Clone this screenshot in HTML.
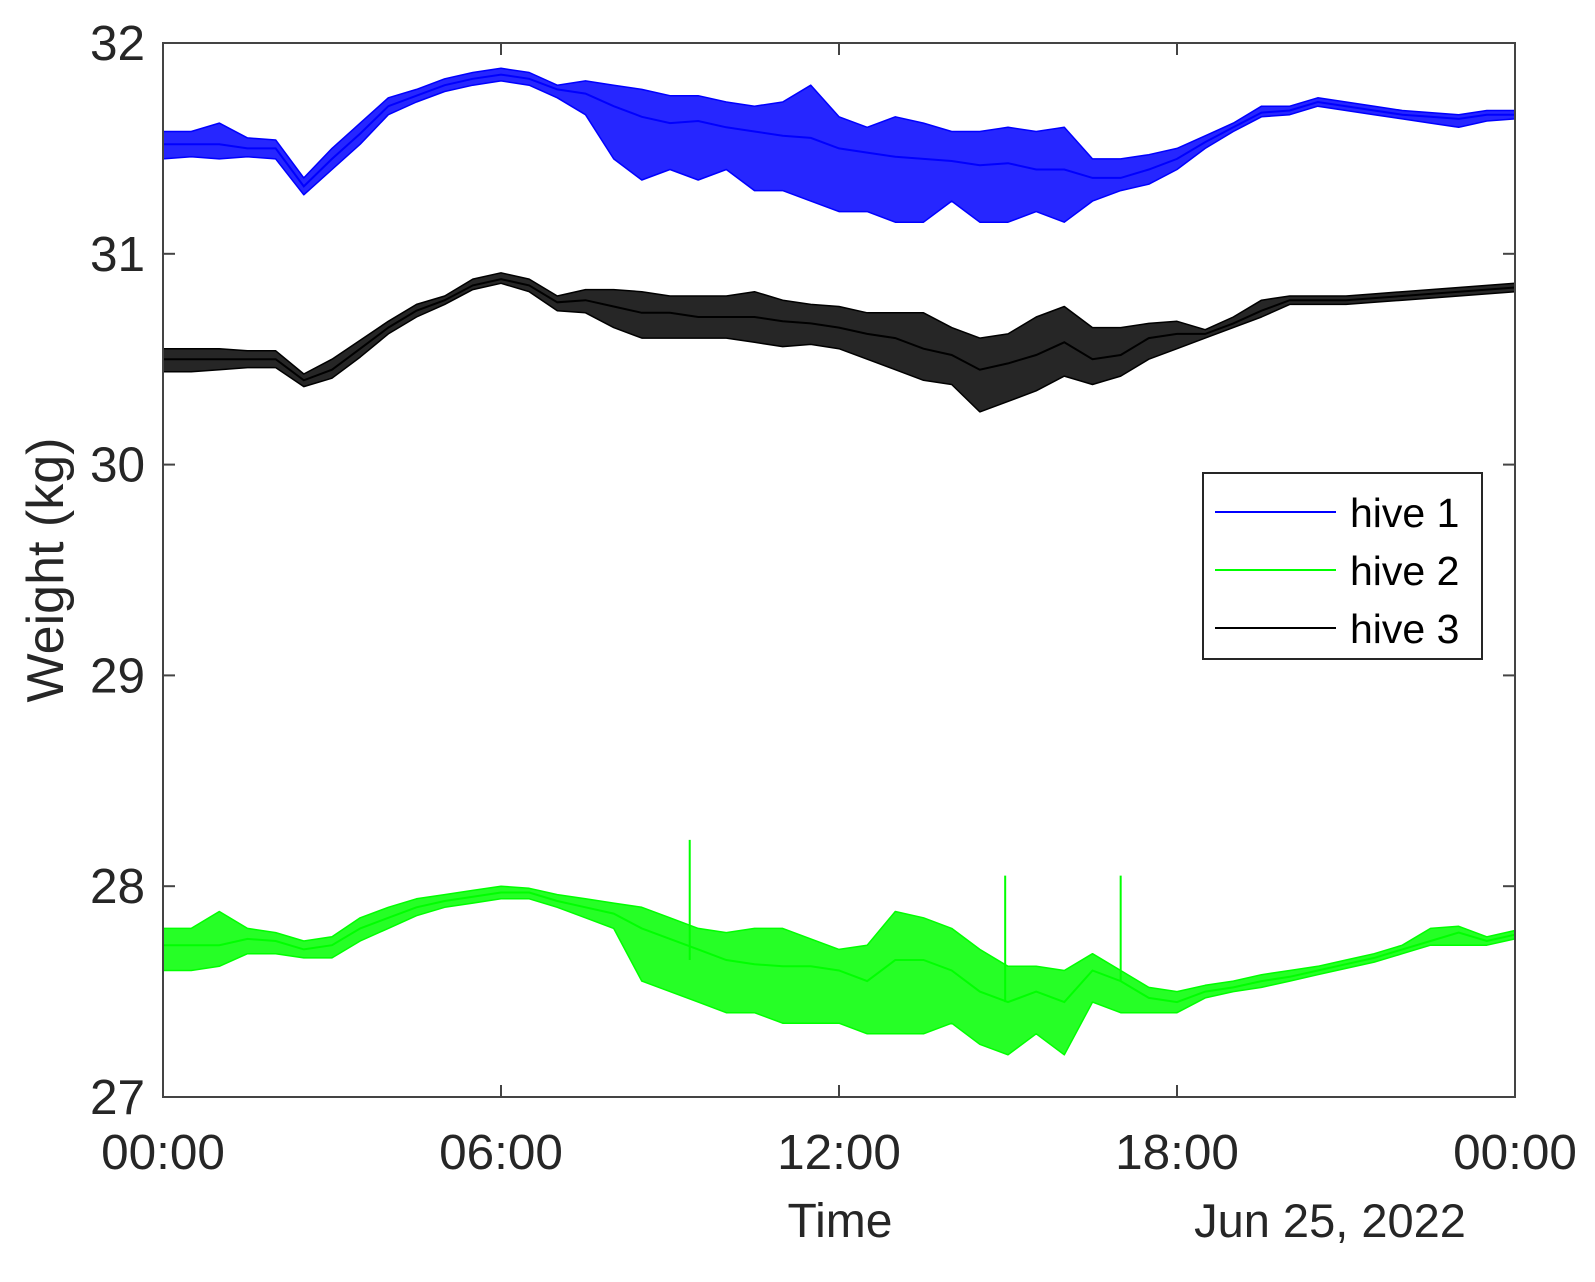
<!DOCTYPE html>
<html><head><meta charset="utf-8"><style>
html,body{margin:0;padding:0;background:#fff;}
svg{display:block;font-family:"Liberation Sans",Arial,sans-serif;}
</style></head><body>
<svg id="chart" width="1595" height="1282" viewBox="0 0 1595 1282" xmlns="http://www.w3.org/2000/svg">
<rect width="1595" height="1282" fill="#fff"/>
<g id="series"></g>
<g id="axes"></g>
<text x="840" y="1237" font-size="48" text-anchor="middle" fill="#262626">Time</text>
<text x="1330" y="1237" font-size="47" text-anchor="middle" fill="#262626">Jun 25, 2022</text>
<text transform="translate(63,570) rotate(-90)" font-size="52" text-anchor="middle" fill="#262626">Weight (kg)</text>
<g>
<rect x="1203" y="473" width="279" height="186" fill="#fff" stroke="#262626" stroke-width="2"/>
<line x1="1215" x2="1336" y1="512" y2="512" stroke="#0000ff" stroke-width="2"/>
<text x="1350" y="527" font-size="41" fill="#000">hive 1</text>
<line x1="1215" x2="1336" y1="570" y2="570" stroke="#00ff00" stroke-width="2"/>
<text x="1350" y="585" font-size="41" fill="#000">hive 2</text>
<line x1="1215" x2="1336" y1="628" y2="628" stroke="#000" stroke-width="2"/>
<text x="1350" y="643" font-size="41" fill="#000">hive 3</text>
</g>
</svg>
<script>
const hours = [0,0.5,1,1.5,2,2.5,3,3.5,4,4.5,5,5.5,6,6.5,7,7.5,8,8.5,9,9.5,10,10.5,11,11.5,12,12.5,13,13.5,14,14.5,15,15.5,16,16.5,17,17.5,18,18.5,19,19.5,20,20.5,21,21.5,22,22.5,23,23.5,24];
const hive1 = [31.52,31.52,31.52,31.5,31.5,31.32,31.45,31.57,31.7,31.75,31.8,31.83,31.85,31.83,31.78,31.76,31.7,31.65,31.62,31.63,31.6,31.58,31.56,31.55,31.5,31.48,31.46,31.45,31.44,31.42,31.43,31.4,31.4,31.36,31.36,31.4,31.45,31.53,31.6,31.67,31.68,31.72,31.7,31.68,31.66,31.65,31.64,31.66,31.66];
const hive1Lo = [31.45,31.46,31.45,31.46,31.45,31.28,31.4,31.52,31.66,31.72,31.77,31.8,31.82,31.8,31.74,31.66,31.45,31.35,31.4,31.35,31.4,31.3,31.3,31.25,31.2,31.2,31.15,31.15,31.25,31.15,31.15,31.2,31.15,31.25,31.3,31.33,31.4,31.5,31.58,31.65,31.66,31.7,31.68,31.66,31.64,31.62,31.6,31.63,31.64];
const hive1Hi = [31.58,31.58,31.62,31.55,31.54,31.36,31.5,31.62,31.74,31.78,31.83,31.86,31.88,31.86,31.8,31.82,31.8,31.78,31.75,31.75,31.72,31.7,31.72,31.8,31.65,31.6,31.65,31.62,31.58,31.58,31.6,31.58,31.6,31.45,31.45,31.47,31.5,31.56,31.62,31.7,31.7,31.74,31.72,31.7,31.68,31.67,31.66,31.68,31.68];
const hive3 = [30.5,30.5,30.5,30.5,30.5,30.4,30.45,30.55,30.65,30.73,30.78,30.85,30.88,30.85,30.77,30.78,30.75,30.72,30.72,30.7,30.7,30.7,30.68,30.67,30.65,30.62,30.6,30.55,30.52,30.45,30.48,30.52,30.58,30.5,30.52,30.6,30.62,30.62,30.67,30.73,30.78,30.78,30.78,30.79,30.8,30.81,30.82,30.83,30.84];
const hive3Lo = [30.44,30.44,30.45,30.46,30.46,30.37,30.41,30.51,30.62,30.7,30.76,30.83,30.86,30.82,30.73,30.72,30.65,30.6,30.6,30.6,30.6,30.58,30.56,30.57,30.55,30.5,30.45,30.4,30.38,30.25,30.3,30.35,30.42,30.38,30.42,30.5,30.55,30.6,30.65,30.7,30.76,30.76,30.76,30.77,30.78,30.79,30.8,30.81,30.82];
const hive3Hi = [30.55,30.55,30.55,30.54,30.54,30.43,30.5,30.59,30.68,30.76,30.8,30.88,30.91,30.88,30.8,30.83,30.83,30.82,30.8,30.8,30.8,30.82,30.78,30.76,30.75,30.72,30.72,30.72,30.65,30.6,30.62,30.7,30.75,30.65,30.65,30.67,30.68,30.64,30.7,30.78,30.8,30.8,30.8,30.81,30.82,30.83,30.84,30.85,30.86];
const hive2 = [27.72,27.72,27.72,27.75,27.74,27.7,27.72,27.8,27.85,27.9,27.93,27.95,27.97,27.97,27.93,27.9,27.87,27.8,27.75,27.7,27.65,27.63,27.62,27.62,27.6,27.55,27.65,27.65,27.6,27.5,27.45,27.5,27.45,27.6,27.55,27.47,27.45,27.5,27.52,27.55,27.57,27.6,27.63,27.66,27.7,27.74,27.78,27.74,27.77];
const hive2Lo = [27.6,27.6,27.62,27.68,27.68,27.66,27.66,27.74,27.8,27.86,27.9,27.92,27.94,27.94,27.9,27.85,27.8,27.55,27.5,27.45,27.4,27.4,27.35,27.35,27.35,27.3,27.3,27.3,27.35,27.25,27.2,27.3,27.2,27.45,27.4,27.4,27.4,27.47,27.5,27.52,27.55,27.58,27.61,27.64,27.68,27.72,27.72,27.72,27.75];
const hive2Hi = [27.8,27.8,27.88,27.8,27.78,27.74,27.76,27.85,27.9,27.94,27.96,27.98,28.0,27.99,27.96,27.94,27.92,27.9,27.85,27.8,27.78,27.8,27.8,27.75,27.7,27.72,27.88,27.85,27.8,27.7,27.62,27.62,27.6,27.68,27.6,27.52,27.5,27.53,27.55,27.58,27.6,27.62,27.65,27.68,27.72,27.8,27.81,27.76,27.79];
const hive2SpikeHours = [9.35,14.95,17.0];
const hive2SpikeTop = [28.22,28.05,28.05];
const hive2SpikeBase = [27.65,27.45,27.55];
const xTickHours = [0,6,12,18,24];
const xTickLabels = ["00:00","06:00","12:00","18:00","00:00"];
const yTicks = [27,28,29,30,31,32];

const L=163,R=1515,T=43,B=1097;
const X = h => L + (h/24)*(R-L);
const Y = v => B - (v-27)/5*(B-T);
const NS="http://www.w3.org/2000/svg";
const series=document.getElementById('series');
const axes=document.getElementById('axes');
function mk(tag,attrs,parent){const e=document.createElementNS(NS,tag);for(const k in attrs)e.setAttribute(k,attrs[k]);parent.appendChild(e);return e;}

function drawHive(name,color,c,lo,hi){
  let pts=hours.map((h,i)=>X(h).toFixed(1)+','+Y(hi[i]).toFixed(1));
  for(let i=hours.length-1;i>=0;i--)pts.push(X(hours[i]).toFixed(1)+','+Y(lo[i]).toFixed(1));
  const band=mk('polygon',{points:pts.join(' '),fill:color,'fill-opacity':0.85,stroke:color,'stroke-width':1.5,'stroke-linejoin':'round'},series);
  
  
  const line=mk('polyline',{points:hours.map((h,i)=>X(h).toFixed(1)+','+Y(c[i]).toFixed(1)).join(' '),fill:'none',stroke:color,'stroke-width':2},series);
  
  
}
drawHive('hive-1','#0000ff',hive1,hive1Lo,hive1Hi);
drawHive('hive-3','#000000',hive3,hive3Lo,hive3Hi);
drawHive('hive-2','#00ff00',hive2,hive2Lo,hive2Hi);
hive2SpikeHours.forEach((h,i)=>{
  const s=mk('line',{x1:X(h),x2:X(h),y1:Y(hive2SpikeBase[i]),y2:Y(hive2SpikeTop[i]),stroke:'#00ff00','stroke-width':2},series);
  
  
});

const box=mk('rect',{x:L,y:T,width:R-L,height:B-T,fill:'none',stroke:'#444','stroke-width':2},axes);


xTickHours.forEach((h,i)=>{
  const x=X(h);
  const t1=mk('line',{x1:x,x2:x,y1:B,y2:B-12,stroke:'#444','stroke-width':2},axes);
  
  
  const t2=mk('line',{x1:x,x2:x,y1:T,y2:T+12,stroke:'#444','stroke-width':2},axes);
  
  
  const lb=mk('text',{x:x,y:1169,'font-size':49.5,'text-anchor':'middle',fill:'#262626'},axes);
  lb.textContent=xTickLabels[i];
  
  
});
yTicks.forEach(v=>{
  const y=Y(v);
  const t1=mk('line',{x1:L,x2:L+12,y1:y,y2:y,stroke:'#444','stroke-width':2},axes);
  
  
  const t2=mk('line',{x1:R,x2:R-12,y1:y,y2:y,stroke:'#444','stroke-width':2},axes);
  
  
  const lb=mk('text',{x:145,y:y+17,'font-size':49.5,'text-anchor':'end',fill:'#262626'},axes);
  lb.textContent=String(v);
  
  
});
</script>
</body></html>
